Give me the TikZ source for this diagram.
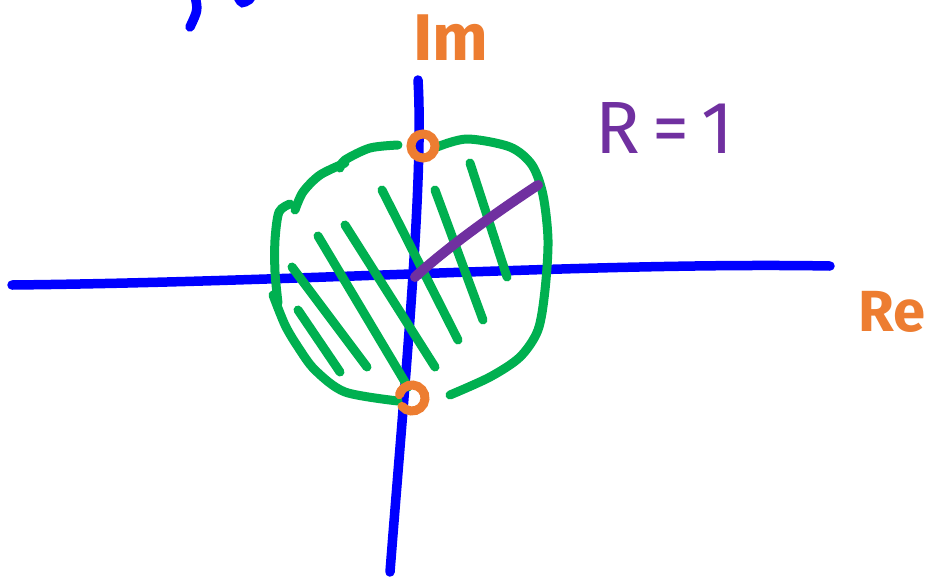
\documentclass[tikz,border=0pt]{standalone}
\usepackage{fontspec}
\setmainfont{Fira Sans}
\usetikzlibrary{calc}
\definecolor{penblue}{HTML}{0000FF}
\definecolor{pengreen}{HTML}{00B050}
\definecolor{penorange}{HTML}{ED7D31}
\definecolor{penpurple}{HTML}{7030A0}
\tikzset{
  axisline/.style={penblue, line width=9.5pt, line cap=round},
  rimline/.style={pengreen, line width=9pt, line cap=round, line join=round},
  hatchline/.style={pengreen, line width=9pt, line cap=round},
  poleline/.style={penorange, line width=9pt, line cap=round},
  radline/.style={penpurple, line width=10pt, line cap=round}
}
\begin{document}
\begin{tikzpicture}[x=1pt, y=-1pt]
      \useasboundingbox (0,0) rectangle (929,576);

      % axes
      \draw[axisline] (12,285) .. controls (300,282) and (600,262) .. (830,266);
      \draw[axisline] (418,80) .. controls (424,180) and (405,380) .. (390,572);
      % bit of a letter cut off at the top
      \draw[axisline] (195,-4) .. controls (198,10) .. (190,27);
      \draw[axisline] (238,-3) .. controls (242,4) .. (250,-1);

      % unit disc, drawn in strokes
      \draw[rimline] plot[smooth] coordinates {(398,145) (370,148) (345,160) (340,168)};
      \draw[rimline] plot[smooth] coordinates {(345,163) (320,175) (303,192) (295,210)};
      \draw[rimline] plot[smooth] coordinates {(290,204) (279,212) (275,240) (275,272) (278,303)};
      \draw[rimline] plot[smooth] coordinates {(273,295) (285,325) (298,347) (315,370) (345,392) (398,401)};
      \draw[rimline] plot[smooth] coordinates {(437,147) (467,139) (510,147) (532,165) (543,195)
        (548,240) (545,290) (538,330) (520,357) (490,377) (450,395)};

      % hatching
      \foreach \xa/\ya/\xb/\yb in {298/310/340/372, 292/267/367/367, 318/236/408/387,
          345/225/435/367, 382/190/458/340, 435/190/483/320, 470/163/507/277}
        \draw[hatchline] (\xa,\ya) -- (\xb,\yb);

      % radius
      \draw[radline] (415,277) .. controls (450,245) and (500,210) .. (538,185);

      % poles
      \draw[poleline] (423,146) circle (12);
      \draw[poleline] ($(412,398)+(140:13)$) arc (140:-165:13);

      % labels
      \node[penorange, font=\fontsize{66}{66}\selectfont\bfseries, anchor=west] (im) at (410,38) {Im};
      \node[penorange, font=\fontsize{58}{58}\selectfont\bfseries, anchor=east] (re) at (929,312) {Re};
      \node[penpurple, font=\fontsize{74}{74}\selectfont, anchor=west] (rad) at (592,128) {R\,=\,1};
    \end{tikzpicture}
\end{document}
